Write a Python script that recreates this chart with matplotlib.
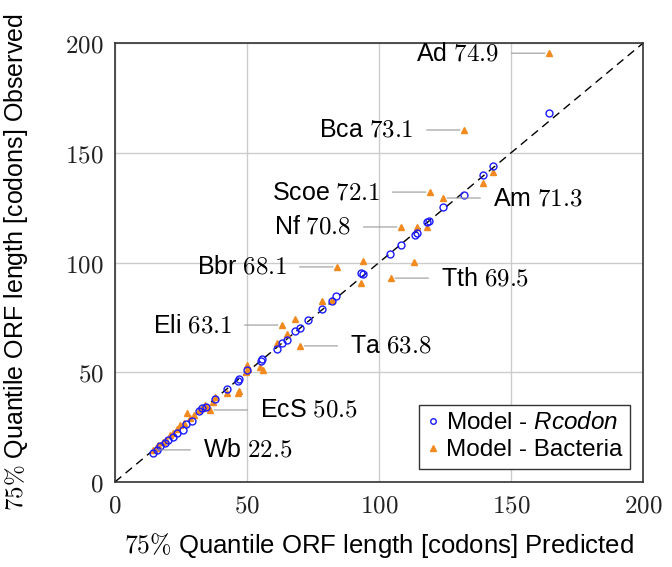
import matplotlib
matplotlib.use('Agg')
import matplotlib.pyplot as plt

plt.rcParams['font.family'] = ['Liberation Sans', 'DejaVu Sans']
plt.rcParams['mathtext.fontset'] = 'custom'
plt.rcParams['mathtext.rm'] = 'cmr10'
plt.rcParams['mathtext.it'] = 'Liberation Sans:italic'
plt.rcParams['mathtext.sf'] = 'Liberation Sans'

# Model - Rcodon (predicted, observed)
rc_pred = [14.4, 15.9, 17.0, 18.9, 20.0, 22.0, 23.5, 25.8, 27.0, 29.2, 31.8, 33.0, 34.5,
           37.9, 42.4, 46.6, 47.0, 50.0, 55.3, 55.7, 61.4, 63.3, 65.2, 68.2, 70.1, 73.1,
           78.4, 82.2, 83.7, 93.2, 93.9, 104.2, 108.3, 113.6, 114.4, 118.2, 118.9, 124.2,
           132.2, 139.4, 143.2, 164.4]
rc_obs = [13.2, 14.6, 16.3, 17.8, 19.2, 20.5, 22.5, 23.7, 26.5, 27.8, 32.3, 33.5, 34.2,
          37.8, 42.4, 46.0, 46.9, 51.0, 55.1, 56.0, 60.6, 63.3, 64.7, 68.8, 70.2, 73.8,
          78.8, 82.5, 84.7, 95.2, 94.8, 103.9, 108.0, 112.5, 113.4, 118.5, 118.9, 125.3,
          130.8, 139.9, 144.0, 168.1]

# Model - Bacteria (predicted, observed)
ba_pred = [14.4, 15.5, 16.5, 18.2, 19.5, 21.0, 22.0, 23.5, 24.6, 26.0, 27.3, 28.5, 30.0,
           32.0, 33.0, 34.1, 35.0, 36.0, 37.1, 38.0, 42.4, 46.6, 47.0, 49.6, 50.0, 50.3,
           54.9, 56.1, 61.4, 63.3, 65.2, 68.2, 70.1, 78.4, 82.2, 84.1, 93.2, 93.9, 104.5,
           108.3, 113.3, 114.4, 118.2, 119.3, 124.2, 132.2, 139.4, 143.2, 164.4]
ba_obs = [14.6, 15.5, 16.8, 18.2, 19.0, 21.5, 22.3, 24.0, 26.0, 27.0, 31.4, 29.0, 30.5,
          33.0, 33.7, 35.1, 34.0, 32.8, 36.4, 38.5, 40.5, 40.5, 41.5, 50.1, 53.3, 51.5,
          52.4, 51.0, 63.3, 71.5, 67.4, 74.3, 62.0, 82.5, 82.9, 98.0, 90.7, 100.7, 92.9,
          116.2, 100.2, 116.2, 116.2, 132.1, 129.4, 160.4, 136.2, 141.2, 195.4]

# labelled bacteria
ann_names = ['Ad', 'Bca', 'Scoe', 'Nf', 'Bbr', 'Eli', 'Ta', 'Tth', 'Am', 'EcS', 'Wb']
ann_vals = ['74.9', '73.1', '72.1', '70.8', '68.1', '63.1', '63.8', '69.5', '71.3', '50.5', '22.5']
ann_pts = [48, 45, 43, 39, 35, 29, 32, 38, 44, 17, 0]
ann_side = ['l', 'l', 'l', 'l', 'l', 'l', 'r', 'r', 'r', 'r', 'r']

ticks = [0, 50, 100, 150, 200]

fig = plt.figure(figsize=(6.72, 5.67), dpi=100)
ax = fig.add_axes([0.171, 0.150, 0.786, 0.774])

ax.plot(ticks, ticks, color='black', lw=1.0, ls=(0, (6, 4)), zorder=1)
ax.plot(rc_pred, rc_obs, ls='none', marker='o', ms=5, mfc='none', mec='#1a1aff', mew=1.0,
        label=r'Model - $\it{Rcodon}$', zorder=3)
ax.plot(ba_pred, ba_obs, ls='none', marker='^', ms=5, color='#f28a1f', mec='#f28a1f',
        label='Model - Bacteria', zorder=2)

for name, val, i, side in zip(ann_names, ann_vals, ann_pts, ann_side):
    off = -36 if side == 'l' else 36
    ax.annotate(name + ' $' + val + '$', xy=(ba_pred[i], ba_obs[i]), xytext=(off, 0),
                textcoords='offset points', ha='right' if side == 'l' else 'left',
                va='center', fontsize=18,
                arrowprops=dict(arrowstyle='-', color='#999999', lw=0.8,
                                shrinkA=7, shrinkB=3))

ax.set_xlim(0, 200)
ax.set_ylim(0, 200)
ax.set_xticks(ticks)
ax.set_yticks(ticks)
ax.set_xticklabels(['$%d$' % t for t in ticks], fontsize=18)
ax.set_yticklabels(['$%d$' % t for t in ticks], fontsize=18)
ax.tick_params(direction='in', length=0, pad=8, colors='#222222')
ax.grid(True, color='#cccccc', lw=1.0)
ax.set_axisbelow(True)
for s in ax.spines.values():
    s.set_color('#333333')
    s.set_linewidth(1.2)

ax.set_xlabel(r'$75\%$ Quantile ORF length [codons] Predicted', fontsize=18.5)
ax.set_ylabel(r'$75\%$ Quantile ORF length [codons] Observed', fontsize=18)
ax.xaxis.set_label_coords(0.5, -0.112)
ax.yaxis.set_label_coords(-0.161, 0.5)

leg = ax.legend(loc='lower right', fontsize=17.5, handlelength=0.5, handletextpad=0.3,
                fancybox=False, framealpha=1, edgecolor='#333333', borderpad=0.3,
                labelspacing=0.2, borderaxespad=0.55, markerscale=0.8)
leg.get_frame().set_linewidth(1.0)

fig.savefig('out.png', dpi=100)
